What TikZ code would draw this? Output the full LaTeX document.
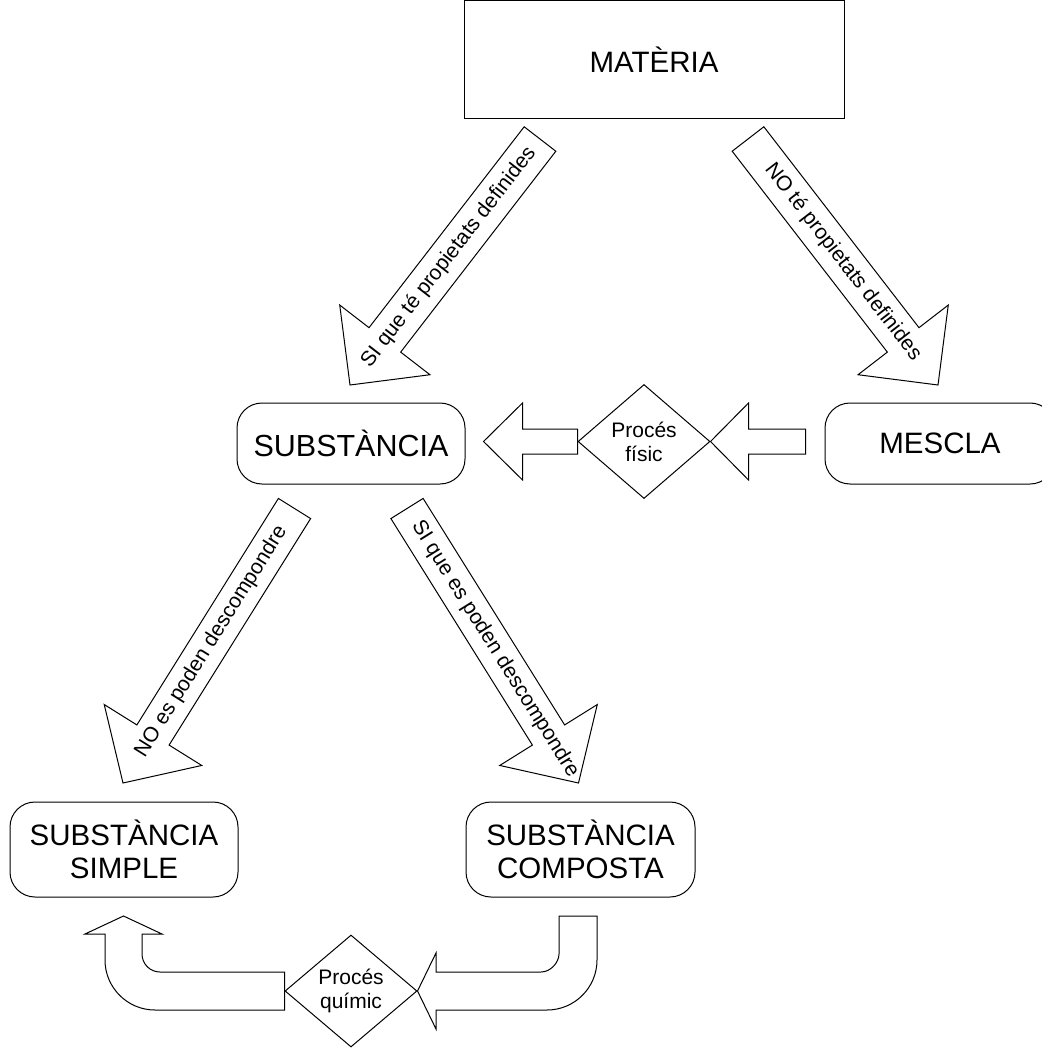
\documentclass[tikz,border=0pt]{standalone}
\usepackage{fontspec}
\setmainfont{Liberation Sans}
\usetikzlibrary{calc,shapes.geometric}
\newcommand\blockarrow[5]{%
  \coordinate (hb) at ($(#2)!#5!(#1)$);
  \draw[blk] ($(#1)!#3!90:(#2)$) -- ($(hb)!#3!-90:(#1)$) -- ($(hb)!#4!-90:(#1)$) -- (#2)
    -- ($(hb)!#4!90:(#1)$) -- ($(hb)!#3!90:(#1)$) -- ($(#1)!#3!-90:(#2)$) -- cycle;
}
\begin{document}
\begin{tikzpicture}[x=1pt,y=-1pt,
  box/.style={draw, line width=1pt, inner sep=0pt, align=center,
    font=\fontsize{29.5}{33}\selectfont},
  rbox/.style={box, rounded corners=25pt},
  blk/.style={draw, line width=1pt, line join=miter},
  lbl/.style={font=\fontsize{21}{24}\selectfont, inner sep=0pt},
  proc/.style={diamond, draw, line width=1pt, inner sep=0pt, align=center,
    font=\fontsize{21}{24}\selectfont}
]
\useasboundingbox (0,0) rectangle (1041,1048);

% boxes
\node[box, minimum width=380pt, minimum height=118.5pt] (mat) at (654,59.75) {MATÈRIA};
\node[rbox, minimum width=228pt, minimum height=81pt, font=\fontsize{30.5}{33}\selectfont] (subst) at (351,443.5) {SUBSTÀNCIA};
\node[rbox, minimum width=230pt, minimum height=81pt] (mescla) at (940,443.5) {MESCLA};
\node[rbox, minimum width=228pt, minimum height=95pt] (simple) at (124,849.5) {SUBSTÀNCIA\\SIMPLE};
\node[rbox, minimum width=229pt, minimum height=95pt] (composta) at (580.5,849.5) {SUBSTÀNCIA\\COMPOSTA};

% process diamonds
\node[proc, minimum width=132pt, minimum height=114pt, aspect=1.16] (fisic) at (644,441.5) {Procés\\físic};
\node[proc, minimum width=132pt, minimum height=112pt, aspect=1.18] (quimic) at (351,991) {Procés\\químic};

% diagonal block arrows
\coordinate (a1t) at (540,139);   \coordinate (a1p) at (350,385);
\coordinate (a2t) at (748,139);   \coordinate (a2p) at (938,385);
\coordinate (a3t) at (294.5,508.5); \coordinate (a3p) at (123,783);
\coordinate (a4t) at (407,508.5); \coordinate (a4p) at (578.5,783);
\blockarrow{a1t}{a1p}{20pt}{57pt}{57pt}
\blockarrow{a2t}{a2p}{20pt}{57pt}{57pt}
\blockarrow{a3t}{a3p}{19pt}{57.5pt}{56.6pt}
\blockarrow{a4t}{a4p}{19pt}{57.5pt}{56.6pt}
\path (a1t) -- (a1p) node[lbl, sloped, pos=0.48] {SI que té propietats definides};
\path (a2t) -- (a2p) node[lbl, sloped, pos=0.5] {NO té propietats definides};
\path (a3t) -- (a3p) node[lbl, sloped, pos=0.485] {NO es poden descompondre};
\path (a4t) -- (a4p) node[lbl, sloped, pos=0.513] {SI que es poden descompondre};

% horizontal arrows (physical process)
\coordinate (h1t) at ($(mescla.west)+(-19,-2)$);
\blockarrow{h1t}{fisic.east}{12.5pt}{38.5pt}{38pt}
\coordinate (h2p) at ($(subst.east)+(18,-2)$);
\blockarrow{fisic.west}{h2p}{12.5pt}{38.5pt}{39pt}

% U-shaped arrow (chemical process)
\draw[blk] (559,916) -- (597,916) -- (597,960) .. controls (597,987.6) and (574.6,1010) .. (547,1010)
  -- (436,1010) -- (436,1029) -- (quimic.east) -- (436,953) -- (436,972) -- (541,972)
  .. controls (550.9,972) and (559,962.1) .. (559,954) -- cycle;
\draw[blk] (quimic.west |- 0,972) -- (quimic.west |- 0,1010) -- (155,1010)
  .. controls (127.4,1010) and (105,987.6) .. (105,960) -- (105,934) -- (85,934)
  -- (123.5,916) -- (162,934) -- (142,934) -- (142,954)
  .. controls (142,963.9) and (150.1,972) .. (160,972) -- cycle;
\end{tikzpicture}
\end{document}
